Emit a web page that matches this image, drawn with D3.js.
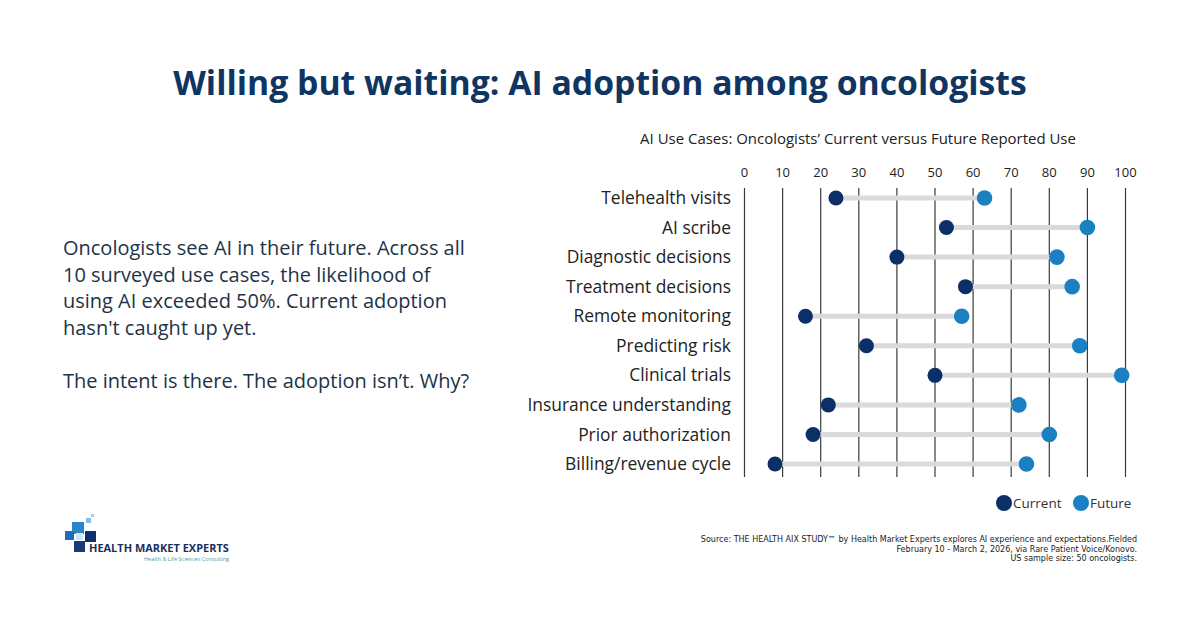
<!DOCTYPE html>
<html>
<head>
<meta charset="utf-8">
<script src="https://cdn.jsdelivr.net/npm/d3@7"></script>
<style>
  body { margin: 0; background: #fff; }
  svg { display: block; }
</style>
</head>
<body>
<div id="chart"></div>
<script>
// AI use cases, % of oncologists
const useCases = ["Telehealth visits", "AI scribe", "Diagnostic decisions", "Treatment decisions",
  "Remote monitoring", "Predicting risk", "Clinical trials", "Insurance understanding",
  "Prior authorization", "Billing/revenue cycle"];
const currentUse = [24, 53, 40, 58, 16, 32, 50, 22, 18, 8];
const futureUse = [63, 90, 82, 86, 57, 88, 99, 72, 80, 74];
const xTicks = [0, 10, 20, 30, 40, 50, 60, 70, 80, 90, 100];
const seriesNames = ["Current", "Future"];

const bodyLines = [
  "Oncologists see AI in their future. Across all",
  "10 surveyed use cases, the likelihood of",
  "using AI exceeded 50%. Current adoption",
  "hasn't caught up yet.",
  "",
  "The intent is there. The adoption isn\u2019t. Why?"
];
const sourceLines = [
  "Source: THE HEALTH AIX STUDY\u2122 by Health Market Experts explores AI experience and expectations.Fielded",
  "February 10 - March 2, 2026, via Rare Patient Voice/Konovo.",
  "US sample size: 50 oncologists."
];

const width = 1200, height = 627;
const navy = "#0f3562", dark = "#0b2f66", light = "#1a80c2";
const font = "'Open Sans', sans-serif";

const svg = d3.select("#chart").append("svg")
  .attr("width", width).attr("height", height);

// font size that makes a text node a given width
function fitSize(sel, w) {
  const fs = parseFloat(sel.attr("font-size"));
  const size = fs * w / sel.node().getComputedTextLength();
  sel.attr("font-size", size);
  return size;
}

// title
svg.append("text")
  .attr("x", 600).attr("y", 95)
  .attr("text-anchor", "middle")
  .attr("font-family", font).attr("font-weight", 700)
  .attr("font-size", 32).attr("fill", navy)
  .text("Willing but waiting: AI adoption among oncologists")
  .call(fitSize, 854);

// left paragraph
let para = svg.append("g").attr("font-family", font).attr("fill", "#1d3347");
let paraSize = 17.5;
bodyLines.forEach((l, i) => {
  if (!l) return;
  let t = para.append("text")
    .attr("x", 63).attr("y", 255 + i * 26.5)
    .attr("font-size", paraSize)
    .text(l);
  if (i == 0) paraSize = fitSize(t, 402);
});

// chart subtitle
svg.append("text")
  .attr("x", 858).attr("y", 144)
  .attr("text-anchor", "middle")
  .attr("font-family", font).attr("font-size", 14).attr("fill", "#222")
  .text("AI Use Cases: Oncologists\u2019 Current versus Future Reported Use")
  .call(fitSize, 436);

let x = d3.scaleLinear().domain([0, 100]).range([744.5, 1125.5]);
let y = d3.scalePoint().domain(useCases).range([198, 464]);

// gridlines
let grid = svg.append("g");
grid.selectAll("line")
  .data(xTicks)
  .enter()
  .append("line")
  .attr("x1", d => x(d)).attr("x2", d => x(d))
  .attr("y1", 188).attr("y2", 477)
  .attr("stroke", "#3a3a3a")
  .attr("stroke-width", 1.2);

grid.selectAll("text")
  .data(xTicks)
  .enter()
  .append("text")
  .attr("x", d => x(d)).attr("y", 177)
  .attr("text-anchor", "middle")
  .attr("font-family", font).attr("font-size", 13).attr("fill", "#222")
  .text(d => d);

// category labels
let labels = svg.append("g").selectAll("text")
  .data(useCases)
  .enter()
  .append("text")
  .attr("x", 731).attr("y", d => y(d))
  .attr("dy", "0.35em")
  .attr("text-anchor", "end")
  .attr("font-family", font).attr("font-size", 17.5).attr("fill", "#222")
  .text(d => d);
let labSize = fitSize(labels.filter((d, i) => i == 9), 166);
labels.attr("font-size", labSize);

let rows = useCases.map((c, i) => ({ name: c, cur: currentUse[i], fut: futureUse[i] }));

// connectors
svg.append("g").selectAll("line")
  .data(rows)
  .enter()
  .append("line")
  .attr("x1", d => x(d.cur)).attr("x2", d => x(d.fut))
  .attr("y1", d => y(d.name)).attr("y2", d => y(d.name))
  .attr("stroke", "#dadada")
  .attr("stroke-width", 5);

svg.append("g").selectAll("circle")
  .data(rows)
  .enter()
  .append("circle")
  .attr("cx", d => x(d.fut)).attr("cy", d => y(d.name))
  .attr("r", 7.8)
  .attr("fill", light);

svg.append("g").selectAll("circle")
  .data(rows)
  .enter()
  .append("circle")
  .attr("cx", d => x(d.cur)).attr("cy", d => y(d.name))
  .attr("r", 7.5)
  .attr("fill", dark);

// legend
let legend = svg.append("g").attr("font-family", font).attr("fill", "#333");
let legendX = [1004, 1081];
seriesNames.forEach((s, i) => {
  legend.append("circle")
    .attr("cx", legendX[i]).attr("cy", 503).attr("r", 8)
    .attr("fill", i == 0 ? dark : light);
  legend.append("text")
    .attr("x", legendX[i] + 9).attr("y", 508)
    .attr("font-size", 13.5)
    .text(s);
});

// source - wide font so it reaches the width at a small size
let src = svg.append("g").attr("font-family", "'DejaVu Sans', sans-serif").attr("fill", "#222");
let srcSize = 7;
sourceLines.forEach((l, i) => {
  let t = src.append("text")
    .attr("x", 1137).attr("y", 542 + i * 9.6)
    .attr("text-anchor", "end")
    .attr("font-size", srcSize)
    .text(l);
  if (i == 0) srcSize = fitSize(t, 437);
});

// logo
let logo = svg.append("g");
let squares = [
  [72, 522, 12, "#2b86c9"],
  [65, 531, 9, "#1f6fb8"],
  [85, 531, 11, "#0f2f6e"],
  [74, 541, 11, "#1a3a7a"],
  [76, 533, 7, "#cfe6f3"],
  [86, 518, 5, "#7fbfe3"],
  [91, 514, 3, "#9fd0ea"]
];
logo.selectAll("rect")
  .data(squares)
  .enter()
  .append("rect")
  .attr("x", d => d[0]).attr("y", d => d[1])
  .attr("width", d => d[2]).attr("height", d => d[2])
  .attr("fill", d => d[3]);
logo.append("text")
  .attr("x", 89).attr("y", 552)
  .attr("font-family", font).attr("font-weight", 700)
  .attr("font-size", 11.5).attr("fill", "#1b2f5e")
  .text("HEALTH MARKET EXPERTS")
  .call(fitSize, 140);
logo.append("text")
  .attr("x", 229).attr("y", 561)
  .attr("text-anchor", "end")
  .attr("font-family", font)
  .attr("font-size", 5.5).attr("fill", "#3a9fb0")
  .text("Health & Life Sciences Consulting");
</script>
</body>
</html>
